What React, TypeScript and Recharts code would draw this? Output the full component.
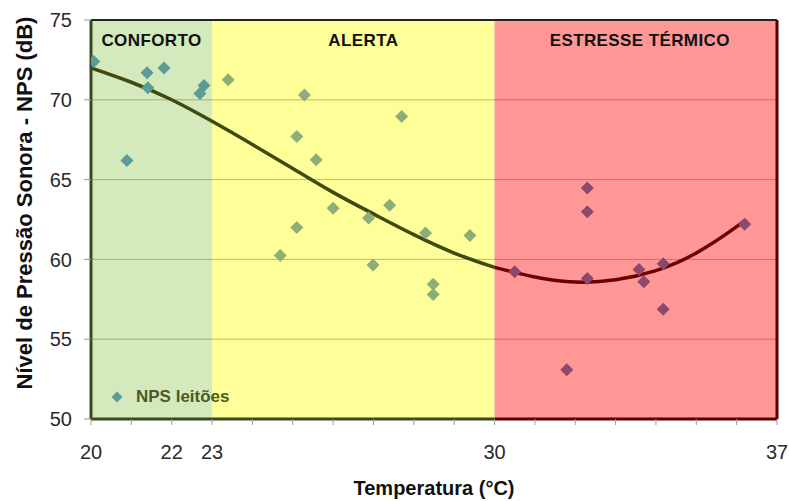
import {
  ComposedChart,
  Label,
  Line,
  ReferenceArea,
  ReferenceLine,
  Scatter,
  XAxis,
  YAxis,
} from "recharts";

// Leituras de NPS (pontos)
const temperatura = [
  20.07, 20.89, 21.39, 21.41, 21.81, 22.7, 22.8, 23.4, 25.29, 25.1, 25.58, 25.1, 26.0, 26.88, 27.4, 27.7,
  24.69, 26.99, 28.29, 29.39, 28.48, 28.48, 30.5, 32.3, 32.3, 32.3, 31.79, 33.58, 33.7, 34.18, 34.18, 36.2,
];
const nps = [
  72.4, 66.2, 71.7, 70.75, 72.0, 70.4, 70.9, 71.25, 70.3, 67.7, 66.25, 62.0, 63.2, 62.6, 63.4, 68.95,
  60.25, 59.65, 61.65, 61.5, 58.45, 57.8, 59.23, 64.48, 62.98, 58.81, 53.08, 59.37, 58.6, 59.73, 56.88, 62.2,
];

// Linha de tendência
const tendTempA = [20, 21, 22, 23, 24, 25, 26, 27, 28, 29, 30];
const tendNpsA = [72.0, 71.1, 70.0, 68.65, 67.2, 65.7, 64.2, 62.85, 61.55, 60.4, 59.5];
const tendTempB = [30, 31, 32, 33, 34, 35, 36, 36.2];
const tendNpsB = [59.5, 58.9, 58.58, 58.72, 59.3, 60.4, 62.05, 62.5];

const xTicks = [20, 21, 22, 23, 24, 25, 26, 27, 28, 29, 30, 31, 32, 33, 34, 35, 36, 37];
const xLabeled = [20, 22, 23, 30, 37];
const yTicks = [50, 55, 60, 65, 70, 75];
const gridLines = [55, 60, 65, 70];

const zonas = [
  { x1: 20, x2: 23, nome: "CONFORTO", fill: "#d4eabd", marker: "#5b9b98", dx: 0 },
  { x1: 23, x2: 30, nome: "ALERTA", fill: "#ffff99", marker: "#8cae78", dx: 10 },
  { x1: 30, x2: 37, nome: "ESTRESSE TÉRMICO", fill: "#ff9797", marker: "#8b4a6d", dx: 4 },
];

const FONT = "'Liberation Sans', Arial, sans-serif";

const pontos = temperatura.map((t, i) => ({ temp: t, nps: nps[i] }));
const tendA = tendTempA.map((t, i) => ({ temp: t, nps: tendNpsA[i] }));
const tendB = tendTempB.map((t, i) => ({ temp: t, nps: tendNpsB[i] }));

function corZona(t: number) {
  const z = zonas.find((z) => t >= z.x1 && t < z.x2) ?? zonas[zonas.length - 1];
  return z.marker;
}

function Diamante(props: any) {
  const { cx, cy, payload } = props;
  const r = 6.5;
  return (
    <polygon
      points={`${cx},${cy - r} ${cx + r},${cy} ${cx},${cy + r} ${cx - r},${cy}`}
      fill={corZona(payload.temp)}
    />
  );
}

export default function App() {
  return (
    <div style={{ position: "absolute", left: 0, top: 0, width: 789, height: 501, fontFamily: FONT }}>
      <ComposedChart width={789} height={501} margin={{ top: 20, right: 12, left: 0, bottom: 0 }}>
        <XAxis
          type="number"
          dataKey="temp"
          domain={[20, 37]}
          ticks={xTicks}
          interval={0}
          allowDataOverflow
          height={82}
          axisLine={false}
          tickLine={{ stroke: "#999" }}
          tickSize={6}
          tickMargin={20}
          tickFormatter={(v: number) => (xLabeled.includes(v) ? String(v) : "")}
          tick={{ fill: "#2a2a2a", fontSize: 20, fontFamily: FONT }}
        >
          <Label
            value="Temperatura (°C)"
            position="insideBottom"
            offset={6}
            fill="#111"
            fontSize={20}
            fontWeight="bold"
            fontFamily={FONT}
          />
        </XAxis>
        <YAxis
          type="number"
          dataKey="nps"
          domain={[50, 75]}
          ticks={yTicks}
          interval={0}
          allowDataOverflow
          width={91}
          axisLine={false}
          tickLine={{ stroke: "#999" }}
          tickSize={7}
          tickMargin={12}
          tick={{ fill: "#2a2a2a", fontSize: 20, fontFamily: FONT }}
        >
          <Label
            content={() => (
              <text
                transform="translate(24,203) rotate(-90)"
                textAnchor="middle"
                dominantBaseline="central"
                fill="#111"
                fontSize={22}
                fontWeight="bold"
                fontFamily={FONT}
              >
                Nível de Pressão Sonora - NPS (dB)
              </text>
            )}
          />
        </YAxis>

        {zonas.map((z) => (
          <ReferenceArea
            key={z.nome}
            x1={z.x1}
            x2={z.x2}
            y1={50}
            y2={75}
            fill={z.fill}
            fillOpacity={1}
            stroke="none"
          >
            <Label
              value={z.nome}
              position="insideTop"
              offset={14}
              dx={z.dx}
              fill="#111"
              fontSize={17}
              fontWeight="bold"
              fontFamily={FONT}
              letterSpacing={0.4}
            />
          </ReferenceArea>
        ))}

        {gridLines.map((g) => (
          <ReferenceLine key={g} y={g} stroke="rgba(90,40,0,0.33)" strokeWidth={1} />
        ))}

        {/* bordas da área do gráfico */}
        <ReferenceLine segment={[{ x: 20, y: 75 }, { x: 37, y: 75 }]} stroke="#222" strokeWidth={2} />
        <ReferenceLine segment={[{ x: 20, y: 50 }, { x: 20, y: 75 }]} stroke="#3b4a1e" strokeWidth={3} />
        <ReferenceLine segment={[{ x: 20, y: 50 }, { x: 30, y: 50 }]} stroke="#3b4a1e" strokeWidth={3} />
        <ReferenceLine segment={[{ x: 30, y: 50 }, { x: 37, y: 50 }]} stroke="#5a0000" strokeWidth={3} />
        <ReferenceLine segment={[{ x: 37, y: 50 }, { x: 37, y: 75 }]} stroke="#5a0000" strokeWidth={3} />

        <Line
          data={tendA}
          dataKey="nps"
          type="natural"
          stroke="#3f4a0e"
          strokeWidth={3.5}
          dot={false}
          activeDot={false}
          isAnimationActive={false}
        />
        <Line
          data={tendB}
          dataKey="nps"
          type="natural"
          stroke="#6b0000"
          strokeWidth={3.5}
          dot={false}
          activeDot={false}
          isAnimationActive={false}
        />
        <Scatter data={pontos} dataKey="nps" shape={<Diamante />} isAnimationActive={false} />
      </ComposedChart>

      <div
        style={{
          position: "absolute",
          left: 111,
          top: 387,
          display: "flex",
          alignItems: "center",
          gap: 13,
          fontSize: 17,
          fontWeight: "bold",
          color: "#4b5a22",
        }}
      >
        <svg width={12} height={12}>
          <polygon points="6,0.5 11.5,6 6,11.5 0.5,6" fill="#5b9b98" />
        </svg>
        <span>NPS leitões</span>
      </div>
    </div>
  );
}
